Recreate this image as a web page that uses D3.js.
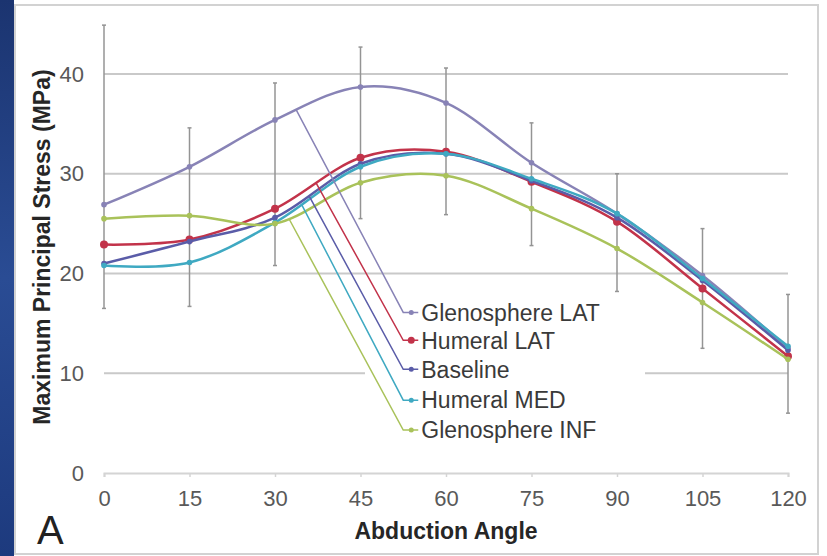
<!DOCTYPE html>
<html>
<head>
<meta charset="utf-8">
<script src="https://cdnjs.cloudflare.com/ajax/libs/d3/7.8.5/d3.min.js"></script>
<style>
  body { margin: 0; background: #ffffff; }
  text { font-family: "Liberation Sans", Arial, sans-serif; }
</style>
</head>
<body>
<div id="chart"></div>
<script>
var angles = [0, 15, 30, 45, 60, 75, 90, 105, 120]
var seriesNames = ['Glenosphere LAT', 'Humeral LAT', 'Baseline', 'Humeral MED', 'Glenosphere INF']
var glenoLAT   = [26.9, 30.7, 35.4, 38.7, 37.1, 31.1, 26.0, 19.8, 12.5]
var humeralLAT = [22.9, 23.4, 26.5, 31.6, 32.2, 29.2, 25.2, 18.5, 11.7]
var baseline   = [21.0, 23.2, 25.6, 31.0, 32.0, 29.3, 25.6, 19.3, 12.3]
var humeralMED = [20.8, 21.1, 25.1, 30.7, 32.0, 29.5, 26.0, 19.5, 12.7]
var glenoINF   = [25.5, 25.8, 25.0, 29.1, 29.8, 26.5, 22.5, 17.1, 11.4]
var errHigh = [44.9, 34.6, 39.1, 42.7, 40.6, 35.1, 30.0, 24.5, 17.9]
var errLow  = [16.5, 16.7, 20.8, 25.5, 25.9, 22.8, 18.2, 12.5, 6.0]
var yTicks = [0, 10, 20, 30, 40]
// leader lines: where they leave each curve, and the row value of each label
var leaderStart = [33.7, 37.2, 36.0, 34.7, 32.5]
var labelRows = [16.1, 13.3, 10.4, 7.3, 4.3]
var leaderEnd = 52.5

var colors = ['#8883b6', '#c2334a', '#5a5ca8', '#3fa9c2', '#a9c25a']
var allValues = [glenoLAT, humeralLAT, baseline, humeralMED, glenoINF]

var W = 827, H = 556

var svg = d3.select('#chart')
    .append('svg')
    .attr('width', W)
    .attr('height', H)

// blue slide edge and white panel
var grad = svg.append('defs').append('linearGradient')
    .attr('id', 'edge').attr('x1', 0).attr('y1', 0).attr('x2', 0).attr('y2', 1)
grad.append('stop').attr('offset', '0%').attr('stop-color', '#1b3470')
grad.append('stop').attr('offset', '50%').attr('stop-color', '#2a4c94')
grad.append('stop').attr('offset', '100%').attr('stop-color', '#1d3a7e')
svg.append('rect').attr('x', 0).attr('y', 0).attr('width', 14).attr('height', H).attr('fill', 'url(#edge)')
svg.append('rect')
    .attr('x', 15).attr('y', 5).attr('width', 803).attr('height', 549)
    .attr('fill', '#fff').attr('stroke', '#d2d2d2').attr('stroke-width', 2)

var x = d3.scaleLinear().domain([0, 120]).range([104, 788])
var y = d3.scaleLinear().domain([0, 40]).range([473, 74])

// gridlines
svg.append('g')
    .selectAll('line')
    .data(yTicks.filter(d => d > 0))
    .enter()
    .append('line')
    .attr('x1', x(0)).attr('x2', x(120))
    .attr('y1', d => y(d)).attr('y2', d => y(d))
    .attr('stroke', '#c9c9c9').attr('stroke-width', 2)

// x axis
var xAxis = svg.append('g')
    .attr('transform', `translate(0,${y(0)})`)
    .call(d3.axisBottom(x).tickValues(angles).tickSize(4).tickPadding(13))
xAxis.select('.domain').attr('stroke', '#d4d4d4').attr('stroke-width', 2)
xAxis.selectAll('.tick line').attr('stroke', '#d4d4d4').attr('stroke-width', 1.5)
xAxis.selectAll('.tick text')
    .attr('font-size', 22).attr('fill', '#595959')
    .style('font-family', '"Liberation Sans", Arial, sans-serif')

// y axis (labels only)
var yAxis = svg.append('g')
    .attr('transform', `translate(${x(0)},0)`)
    .call(d3.axisLeft(y).tickValues(yTicks).tickSize(0).tickPadding(20))
yAxis.select('.domain').remove()
yAxis.selectAll('.tick text')
    .attr('font-size', 22).attr('fill', '#595959')
    .style('font-family', '"Liberation Sans", Arial, sans-serif')

// legend background hides the grid behind the labels
svg.append('rect')
    .attr('x', 365).attr('y', 288).attr('width', 280).attr('height', 156)
    .attr('fill', '#fff')

// error bars
var err = svg.append('g')
err.selectAll('line')
    .data(angles)
    .enter()
    .append('line')
    .attr('x1', d => x(d)).attr('x2', d => x(d))
    .attr('y1', (d, i) => y(errHigh[i]))
    .attr('y2', (d, i) => y(errLow[i]))
    .attr('stroke', '#949494').attr('stroke-width', 1.5)
err.selectAll('.cap')
    .data(angles.flatMap((d, i) => [[d, errHigh[i]], [d, errLow[i]]]))
    .enter()
    .append('line')
    .attr('class', 'cap')
    .attr('x1', d => x(d[0]) - 2).attr('x2', d => x(d[0]) + 2)
    .attr('y1', d => y(d[1])).attr('y2', d => y(d[1]))
    .attr('stroke', '#949494').attr('stroke-width', 1.5)

var line = d3.line()
    .x((d, i) => x(angles[i]))
    .y(d => y(d))
    .curve(d3.curveCardinal.tension(0))

var group = svg.selectAll('.series')
    .data(allValues)
    .enter()
    .append('g')
    .attr('class', 'series')

var paths = group.append('path')
    .attr('d', d => line(d))
    .attr('fill', 'none')
    .attr('stroke', (d, i) => colors[i])
    .attr('stroke-width', 2.5)

group.each(function(vals, s) {
    d3.select(this).selectAll('circle')
        .data(vals)
        .enter()
        .append('circle')
        .attr('cx', (d, i) => x(angles[i]))
        .attr('cy', d => y(d))
        .attr('r', s == 1 ? 4 : 2.8)
        .attr('fill', colors[s])
})

// point on a curve at a given x
function pointAtX(node, px) {
    var lo = 0, hi = node.getTotalLength()
    for (var k = 0; k < 40; k++) {
        var mid = (lo + hi) / 2
        if (node.getPointAtLength(mid).x < px) lo = mid
        else hi = mid
    }
    return node.getPointAtLength(lo)
}

// leader lines and labels
var labels = svg.append('g')
paths.each(function(d, i) {
    var p = pointAtX(this, x(leaderStart[i]))
    var ey = y(labelRows[i])
    labels.append('polyline')
        .attr('points', `${p.x},${p.y} ${x(leaderEnd)},${ey} ${x(leaderEnd) + 15},${ey}`)
        .attr('fill', 'none')
        .attr('stroke', colors[i])
        .attr('stroke-width', 1.5)
    labels.append('circle')
        .attr('cx', x(leaderEnd) + 8).attr('cy', ey)
        .attr('r', i == 1 ? 3.5 : 2.5)
        .attr('fill', colors[i])
    labels.append('text')
        .attr('x', x(leaderEnd) + 18).attr('y', ey)
        .attr('dy', '0.36em')
        .attr('font-size', 23)
        .attr('fill', '#3a3a3a')
        .text(seriesNames[i])
})

// axis titles
svg.append('text')
    .attr('transform', `translate(50,${247}) rotate(-90)`)
    .attr('text-anchor', 'middle')
    .attr('font-size', 23)
    .attr('font-weight', 'bold')
    .attr('fill', '#262626')
    .text('Maximum Principal Stress (MPa)')

svg.append('text')
    .attr('x', 446).attr('y', 539)
    .attr('text-anchor', 'middle')
    .attr('font-size', 23)
    .attr('font-weight', 'bold')
    .attr('fill', '#262626')
    .text('Abduction Angle')

svg.append('text')
    .attr('x', 37).attr('y', 544)
    .attr('font-size', 40)
    .attr('fill', '#222')
    .text('A')
</script>
</body>
</html>
